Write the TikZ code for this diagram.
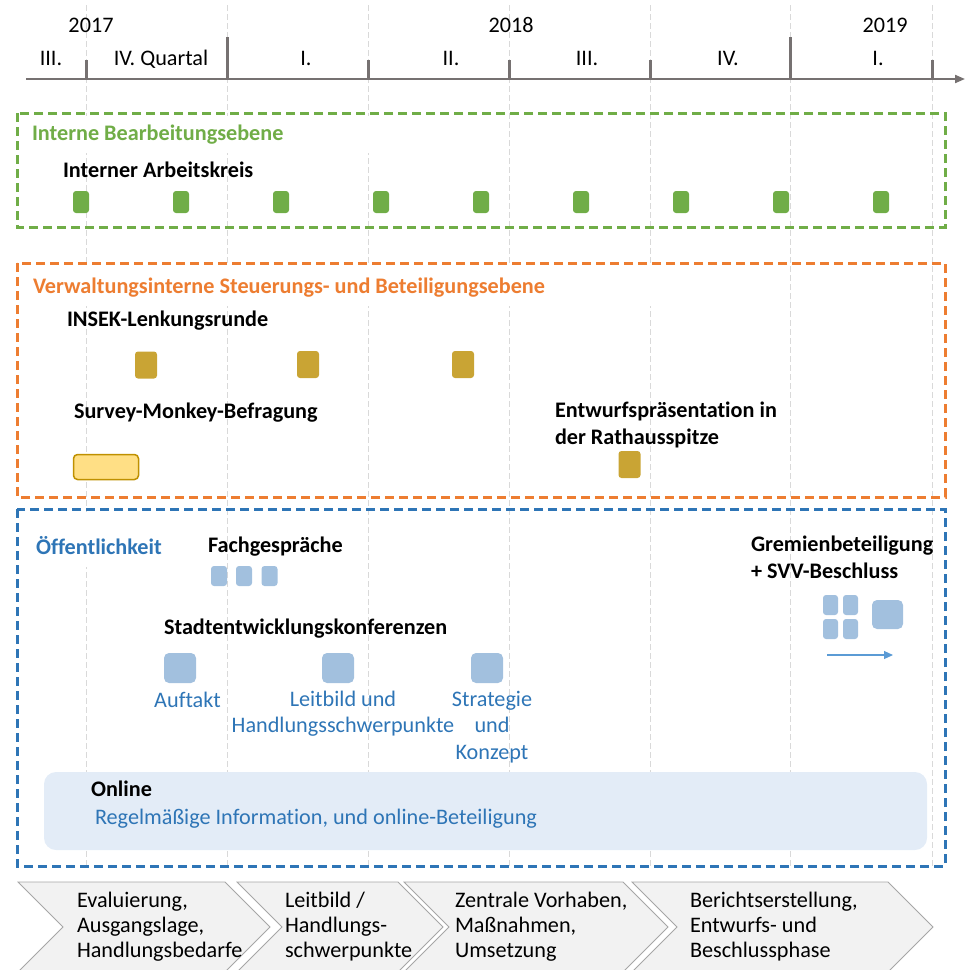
\documentclass[tikz,border=0pt]{standalone}
\usepackage{fontspec}
\setmainfont{Carlito}[Ligatures=NoCommon]
\usetikzlibrary{arrows.meta}
\definecolor{tgray}{HTML}{767171}
\definecolor{ggreen}{HTML}{70AD47}
\definecolor{gorange}{HTML}{ED7D31}
\definecolor{gblue}{HTML}{2E75B6}
\definecolor{ggold}{HTML}{C9A434}
\definecolor{syfill}{HTML}{FFDF85}
\definecolor{syborder}{HTML}{BF9000}
\definecolor{lblue}{HTML}{A2C0DE}
\definecolor{arrowblue}{HTML}{5B9BD5}
\definecolor{onfill}{HTML}{E3ECF7}
\definecolor{gridc}{HTML}{D9D9D9}
\definecolor{chfill}{HTML}{F2F2F2}
\definecolor{chdraw}{HTML}{A6A6A6}
\begin{document}
\begin{tikzpicture}[x=1pt,y=-1pt,
  every node/.style={inner sep=0pt, outer sep=0pt},
  reg/.style={font=\fontsize{22.2}{26.5}\selectfont},
  bld/.style={font=\fontsize{22.2}{26.5}\selectfont\bfseries},
  lab/.style={bld, anchor=base west},
  blab/.style={reg, text=gblue, anchor=base, align=center},
  tl/.style={reg, anchor=base},
  frame/.style={dash pattern=on 9pt off 5pt, line width=3pt},
  gridline/.style={draw=gridc, line width=0.8pt, dash pattern=on 6pt off 3pt},
  gsq/.style={fill=ggreen, rounded corners=3pt, minimum width=16pt, minimum height=22pt},
  osq/.style={fill=ggold, rounded corners=3pt, minimum width=22pt, minimum height=27pt},
  ssq/.style={fill=lblue, rounded corners=3pt, minimum width=16pt, minimum height=20pt},
  bsq/.style={fill=lblue, rounded corners=5pt, minimum width=32pt, minimum height=30pt},
  qsq/.style={fill=lblue, rounded corners=3pt, minimum width=15pt, minimum height=20pt},
  chev/.style={fill=chfill, draw=chdraw, line width=0.8pt},
  chtxt/.style={anchor=base west, align=left, font=\fontsize{22.2}{25}\selectfont}
]
\useasboundingbox (0,0) rectangle (967,970);
% grid lines
\foreach \x in {86,227,368,509,650,790,932}
  \draw[gridline] (\x,5) -- (\x,866);
% white bands behind titles
\fill[white] (20,116) rectangle (480,153);
\fill[white] (20,266) rectangle (700,306);
\fill[white] (20,512) rectangle (175,567);
% time axis
\draw[tgray, line width=2pt, -{Triangle[length=10pt,width=8pt]}] (26,79) -- (965,79);
\foreach \x in {86,368,509,650,932}
  \fill[tgray] (\x-1.5,60) rectangle (\x+1.5,79);
\foreach \x in {227,790}
  \fill[tgray] (\x-1.5,37) rectangle (\x+1.5,79);
\node[tl] (y17) at (91,32) {2017};
\node[tl] (y18) at (511,32) {2018};
\node[tl] (y19) at (885,32) {2019};
\node[tl] (q1) at (51,65) {III.};
\node[tl] (q2) at (161,65) {IV. Quartal};
\node[tl] (q3) at (306,65) {I.};
\node[tl] (q4) at (451,65) {II.};
\node[tl] (q5) at (587,65) {III.};
\node[tl] (q6) at (728,65) {IV.};
\node[tl] (q7) at (878,65) {I.};
% frames
\draw[frame, ggreen] (17,113) rectangle (945,227);
\draw[frame, gorange] (17,263) rectangle (945,497);
\draw[frame, gblue] (17,509) rectangle (945,866);
% green level
\node[lab, text=ggreen] (tgreen) at (32,140) {Interne Bearbeitungsebene};
\node[lab] (ak) at (63,177) {Interner Arbeitskreis};
\foreach \i in {0,...,8}
  \node[gsq] (ak\i) at ({81+100*\i},202) {};
% orange level
\node[lab, text=gorange] (torange) at (33,293) {Verwaltungsinterne Steuerungs- und Beteiligungsebene};
\node[lab] (insek) at (67,326) {INSEK-Lenkungsrunde};
\node[osq] (in1) at (146,365) {};
\node[osq] (in2) at (308,364.5) {};
\node[osq] (in3) at (463,364.5) {};
\node[lab] (survey) at (74,418) {Survey-Monkey-Befragung};
\node[fill=syfill, draw=syborder, line width=1.5pt, rounded corners=4pt, minimum width=65pt, minimum height=25pt] (sv) at (106,467) {};
\node[lab, align=left] (entw) at (555,444) {Entwurfspräsentation in\\der Rathausspitze};
\node[osq] (ent) at (629.5,464.5) {};
% blue level
\node[lab, text=gblue] (tblue) at (36,554) {Öffentlichkeit};
\node[lab] (fach) at (208,552) {Fachgespräche};
\node[ssq] (f1) at (219,576) {};
\node[ssq] (f2) at (244,576) {};
\node[ssq] (f3) at (269.5,576) {};
\node[lab] (sk) at (164,634) {Stadtentwicklungskonferenzen};
\node[bsq] (sk1) at (180,668) {};
\node[bsq] (sk2) at (338,668) {};
\node[bsq] (sk3) at (487,668) {};
\node[blab] (auf) at (187.5,707) {Auftakt};
\node[blab] (leit) at (343,732.5) {Leitbild und\\Handlungsschwerpunkte};
\node[blab] (strat) at (492,759) {Strategie\\und\\Konzept};
\node[lab, align=left] (grem) at (751,578) {Gremienbeteiligung\\+ SVV-Beschluss};
\node[qsq] (g1) at (830.5,605) {};
\node[qsq] (g2) at (850.5,605) {};
\node[qsq] (g3) at (830.5,629) {};
\node[qsq] (g4) at (850.5,629) {};
\node[fill=lblue, rounded corners=5pt, minimum width=31pt, minimum height=29pt] (gb) at (887.5,614.5) {};
\coordinate (ga) at (827,655);
\coordinate (gz) at (893,655);
\draw[arrowblue, line width=1.2pt, -{Triangle[length=9pt,width=8pt]}] (ga) -- (gz);
% online
\node[fill=onfill, rounded corners=12pt, minimum width=883pt, minimum height=78pt] (online) at (485.5,811) {};
\node[lab] (ontitle) at (91,796) {Online};
\node[reg, anchor=base west, text=gblue] (ontext) at (95,824) {Regelmäßige Information, und online-Beteiligung};
% chevrons
\draw[chev] (18,882) -- (225,882) -- (270,927) -- (225,972) -- (18,972) -- (63,927) -- cycle;
\draw[chev] (237,882) -- (398,882) -- (443,927) -- (398,972) -- (237,972) -- (282,927) -- cycle;
\draw[chev] (404,882) -- (623,882) -- (668,927) -- (623,972) -- (404,972) -- (449,927) -- cycle;
\draw[chev] (632,882) -- (888,882) -- (933,927) -- (888,972) -- (632,972) -- (677,927) -- cycle;
\node[chtxt] (c1) at (77,957) {Evaluierung,\\Ausgangslage,\\Handlungsbedarfe};
\node[chtxt] (c2) at (285,957) {Leitbild /\\Handlungs-\\schwerpunkte};
\node[chtxt] (c3) at (455,957) {Zentrale Vorhaben,\\Maßnahmen,\\Umsetzung};
\node[chtxt] (c4) at (690,957) {Berichtserstellung,\\Entwurfs- und\\Beschlussphase};
\end{tikzpicture}
\end{document}
